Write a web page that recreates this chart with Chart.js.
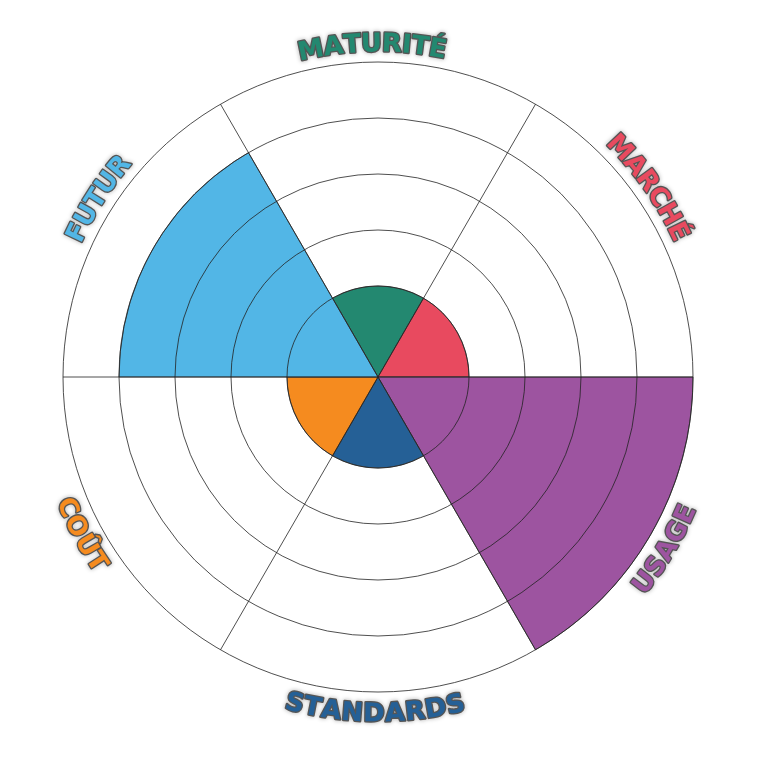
<!DOCTYPE html>
<html>
<head>
<meta charset="utf-8">
<script src="https://cdn.jsdelivr.net/npm/chart.js@4"></script>
<style>
  html, body { margin: 0; padding: 0; background: #fff; }
  #wrap { width: 757px; height: 757px; }
</style>
</head>
<body>
<div id="wrap"><canvas id="chart" width="757" height="757"></canvas></div>
<script>
// segment names, going clockwise from the top
const labels = ['MATURITÉ', 'MARCHÉ', 'USAGE', 'STANDARDS', 'COÛT', 'FUTUR'];
const values = [1, 1, 5, 1, 1, 4];
const colors = ['#238870', '#e84a5f', '#9d54a0', '#256096', '#f58b1f', '#52b6e6'];
const ringTicks = [1, 2, 3, 4, 5];

// small hand nudges (degrees) so the curved words sit like the original
const labelNudge = [-1, -5, 1, 0.5, 2, 2.5];

// curved labels around the outer ring
const curvedLabels = {
    id: 'curvedLabels',
    afterDraw(chart) {
        const scale = chart.scales.r;
        const ctx = chart.ctx;
        const n = labels.length;
        const mid = scale.drawingArea + 20;
        ctx.save();
        ctx.font = 'bold 26px "DejaVu Sans"';
        ctx.textAlign = 'center';
        ctx.textBaseline = 'alphabetic';
        const capH = 19;

        const placeChars = (i) => {
            const text = labels[i];
            let a = scale.getIndexAngle(i) + Math.PI / n - Math.PI / 2;
            a = Math.atan2(Math.sin(a), Math.cos(a));
            const flip = Math.sin(a) > 0.01;
            a += labelNudge[i] * Math.PI / 180;
            const chars = Array.from(text);
            const widths = chars.map(c => ctx.measureText(c).width);
            const total = widths.reduce((s, w) => s + w, 0);
            const dir = flip ? -1 : 1;
            const r = flip ? mid + capH / 2 : mid - capH / 2;
            let ang = a - dir * total / 2 / mid;
            const out = [];
            chars.forEach((c, k) => {
                const half = widths[k] / 2 / mid;
                ang += dir * half;
                out.push({
                    c: c,
                    x: scale.xCenter + r * Math.cos(ang),
                    y: scale.yCenter + r * Math.sin(ang),
                    rot: flip ? ang - Math.PI / 2 : ang + Math.PI / 2
                });
                ang += dir * half;
            });
            return out;
        };

        // outline pass
        labels.forEach((_, i) => {
            placeChars(i).forEach(p => {
                ctx.save();
                ctx.translate(p.x, p.y);
                ctx.rotate(p.rot);
                ctx.shadowColor = 'rgba(0,0,0,0.35)';
                ctx.shadowBlur = 4;
                ctx.lineJoin = 'round';
                ctx.lineWidth = 2.6;
                ctx.strokeStyle = '#555';
                ctx.strokeText(p.c, 0, 0);
                ctx.restore();
            });
        });
        // fill pass
        labels.forEach((_, i) => {
            placeChars(i).forEach(p => {
                ctx.save();
                ctx.translate(p.x, p.y);
                ctx.rotate(p.rot);
                ctx.fillStyle = colors[i];
                ctx.fillText(p.c, 0, 0);
                ctx.restore();
            });
        });
        ctx.restore();
    }
};

new Chart(document.getElementById('chart'), {
    type: 'polarArea',
    data: {
        labels: labels,
        datasets: [{
            data: values,
            backgroundColor: colors,
            borderColor: '#3a3a3a',
            borderWidth: 0.8
        }]
    },
    options: {
        responsive: false,
        animation: false,
        startAngle: -30,
        layout: { padding: { left: 63, right: 63, top: 62, bottom: 64 } },
        plugins: {
            legend: { display: false },
            tooltip: { enabled: false }
        },
        scales: {
            r: {
                startAngle: -30,
                min: -0.625,
                max: 5,
                afterBuildTicks: (scale) => {
                    scale.ticks = ringTicks.map(v => ({ value: v }));
                },
                ticks: { display: false },
                pointLabels: { display: false },
                grid: { circular: true, color: '#222', lineWidth: 0.8, z: 1 },
                angleLines: { display: true, color: '#222', lineWidth: 0.8 }
            }
        }
    },
    plugins: [curvedLabels]
});
</script>
</body>
</html>
